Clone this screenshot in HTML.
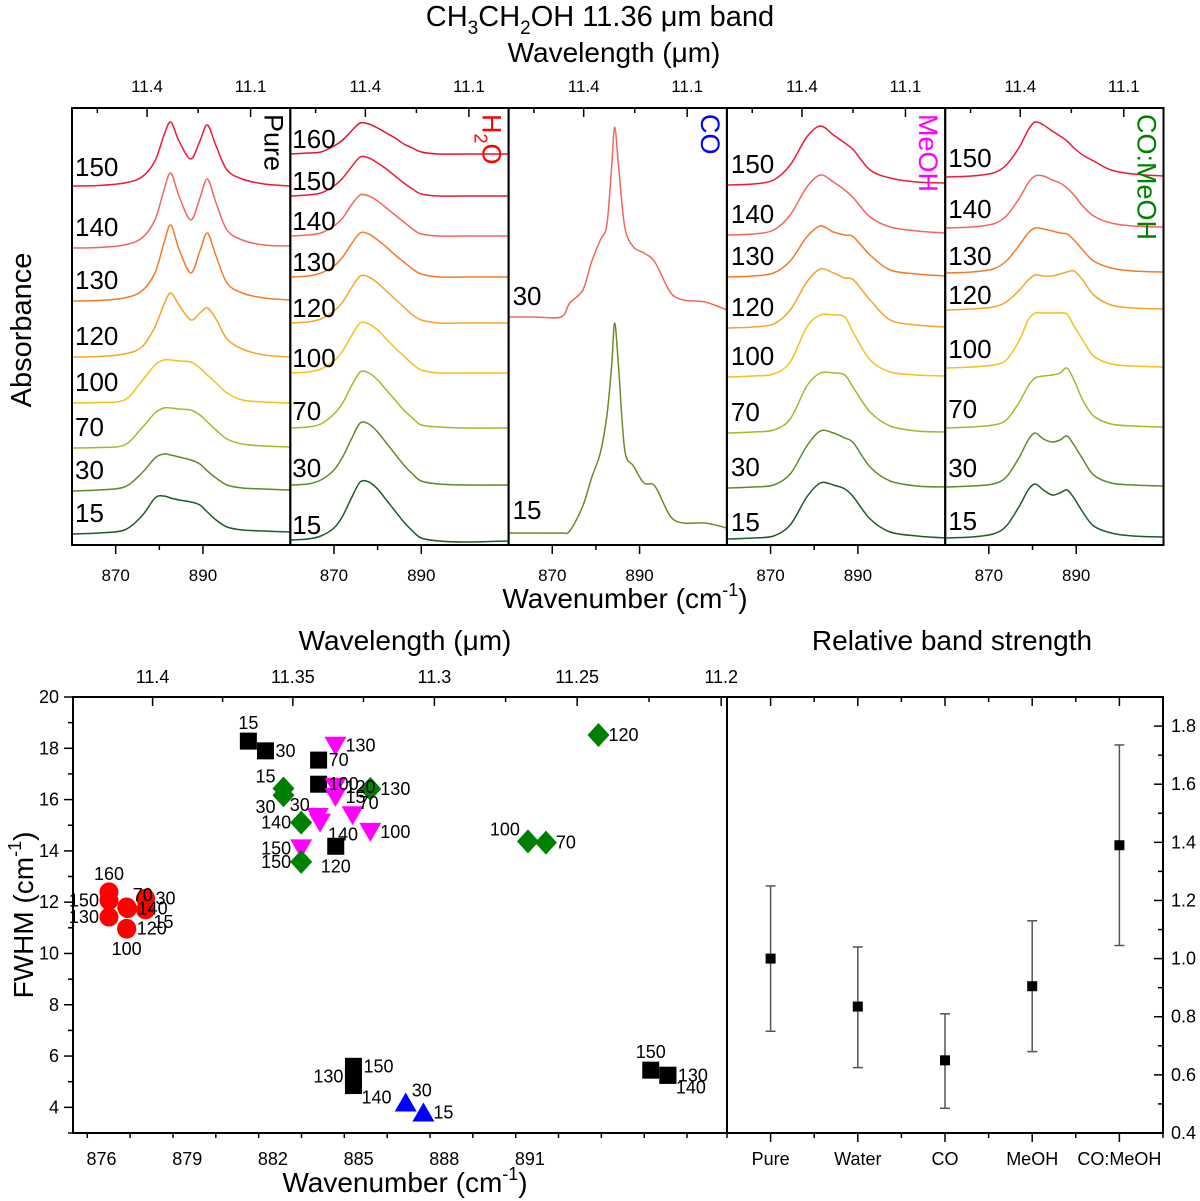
<!DOCTYPE html>
<html><head><meta charset="utf-8"><title>CH3CH2OH 11.36 um band</title>
<style>
html,body{margin:0;padding:0;background:#fff;}
svg{display:block;font-family:"Liberation Sans",Arial,sans-serif;}
</style></head>
<body>
<svg id="fig" xmlns="http://www.w3.org/2000/svg" width="1200" height="1201" viewBox="0 0 1200 1201">
<g id="topPanels"></g>
<g id="scat"></g>
<g id="bars"></g>
<text x="600" y="26" text-anchor="middle" font-size="29">CH<tspan font-size="19" dy="8">3</tspan><tspan dy="-8">CH</tspan><tspan font-size="19" dy="8">2</tspan><tspan dy="-8">OH 11.36 μm band</tspan></text>
<text x="614" y="62" text-anchor="middle" font-size="28">Wavelength (μm)</text>
<text x="625" y="608" text-anchor="middle" font-size="28">Wavenumber (cm<tspan font-size="18" dy="-12">-1</tspan><tspan dy="12">)</tspan></text>
<text transform="translate(31,330) rotate(-90)" text-anchor="middle" font-size="29">Absorbance</text>
<text x="405" y="650" text-anchor="middle" font-size="28">Wavelength (μm)</text>
<text x="952" y="650" text-anchor="middle" font-size="28">Relative band strength</text>
<text x="405" y="1192" text-anchor="middle" font-size="28">Wavenumber (cm<tspan font-size="18" dy="-12">-1</tspan><tspan dy="12">)</tspan></text>
<text transform="translate(33,915) rotate(-90)" text-anchor="middle" font-size="28">FWHM (cm<tspan font-size="18" dy="-12">-1</tspan><tspan dy="12">)</tspan></text>
</svg>
<script>
// ---------- TOP SPECTRA DATA ----------
const gridPure = [860,866,872,876,879,881,882.6,884.5,887.2,889.3,891,893,895.5,899,904,910];
const pureTemps = ['150','140','130','120','100','70','30','15'];
const pureOffsets = [359,297,244,188,142,97,54,11];
const pure150 = [0,0.5,3,9,25,50,64,45,27,45,61,40,16,7,2,0];
const pure140 = [0,0.5,3,10,28,57,75,52,28,50,69,45,18,8,3,2];
const pure130 = [0,0.5,3,10,28,57,76,52,28,50,68,45,18,8,3,1];
const pure120 = [0,0.5,3,10,30,52,64,52,37,44,49,38,18,8,2,0];
const pure100 = [0,0.5,3,22,38,43,43,42,41,35,28,20,10,3,1,0];
const pure70 = [0,0.5,3,20,35,40,40,39,38,33,26,18,9,4,2,1];
const pure30 = [0,1,4,18,33,37,36,34,31,27,20,13,6,3,2,1];
const pure15 = [0,1,4,18,36,38,36,34,32,29,22,14,7,4,3,2];

const gridH2O = [860,864,867,870,872,874,876,878,880,882,884,886,888,890,894,900,910];
const h2oTemps = ['160','150','140','130','120','100','70','30','15'];
const h2oOffsets = [391,349,309,268,222,172,117,60,5];
const h2o160 = [0,1,2,8,14,23,31,30,26,21,16,10,6,2,0,0,0];
const h2o150 = [0,1,3,10,18,29,39,38,33,27,20,13,7,2,0,0,0];
const h2o140 = [0,1,3,10,18,31,41,40,35,28,21,14,7,2,0,0,0];
const h2o130 = [0,1,4,11,20,33,44,43,37,30,22,15,8,3,0,0,0];
const h2o120 = [0,1,4,12,21,35,47,46,40,32,24,16,8,3,0,0,0];
const h2o100 = [0,1,4,12,22,37,50,49,43,34,25,17,9,3,0,0,0];
const h2o70 = [0,1,4,14,25,42,56,55,48,38,28,18,10,3,1,0,0];
const h2o30 = [0,1,5,15,28,46,62,61,53,42,31,20,11,4,1,0,0];
const h2o15 = [0,1,4,12,24,42,58,58,51,40,29,18,9,2,-1,-2,-1];

const gridCO = [860,866,872,874,877,879,881,882.5,883.6,884.3,885.2,886.6,888.6,891,893.5,897,900,905,910];
const coTemps = ['30','15'];
const coOffsets = [228,12];
const co30 = [0,0,0,14,27,55,77,92,150,190,150,90,70,64,55,25,17,15,7];
const co15 = [0,0,0,2,27,55,80,117,167,210,165,83,67,50,47,17,10,10,5];

const gridMeOH = [860,866,870.7,874.5,878.3,881.4,884.4,887,889,892.8,897.4,903.5,910];
const meohTemps = ['150','140','130','120','100','70','30','15'];
const meohOffsets = [360,310,268,217,168,112,57,6];
const meoh150 = [0,1,5,20,48,59,50,42,35,15,7,3,2];
const meoh140 = [0,1,5,20,48,60,53,45,37,18,8,4,2];
const meoh130 = [0,1,4,16,40,51,45,42,40,22,7,3,1];
const meoh120 = [0,1,4,18,46,59,55,50,48,28,8,3,1];
const meoh100 = [0,1,3,15,50,62,62,60,44,17,5,2,1];
const meoh70 = [0,1,3,14,47,60,60,58,45,21,7,2,1];
const meoh30 = [0,1,3,14,42,57,55,50,45,21,7,2,1];
const meoh15 = [0,1,3,14,42,56,54,50,42,20,7,3,1];

const gridMix = [860,866,871,874,877,879,880.6,882.5,884.5,886.3,887.9,889.5,891.5,894,898,903,910];
const mixTemps = ['150','140','130','120','100','70','30','15'];
const mixOffsets = [368,317,272,235,177,117,58,7];
const mix150 = [0,1,4,12,30,47,55,52,46,41,36,29,22,16,7,3,1];
const mix140 = [0,1,4,12,30,45,52,52,48,45,40,33,22,12,5,2,1];
const mix130 = [0,1,4,12,28,40,45,44,42,40,39,33,23,12,5,2,1];
const mix120 = [0,1,3,8,20,30,35,34,34,36,38,39,30,15,5,2,1];
const mix100 = [0,1,3,8,28,48,55,55,55,55,54,42,28,12,4,2,1];
const mix70 = [0,1,3,8,26,42,50,52,53,55,60,48,28,12,4,2,1];
const mix30 = [0,1,3,10,30,47,54,48,45,47,51,42,28,12,4,2,1];
const mix15 = [0,1,4,12,32,48,54,48,43,45,48,40,26,12,5,2,1];

// ---------- SCATTER DATA ----------
const pureWn = [881.14,881.74,883.60,883.60,884.20,884.82,884.82,884.82,895.23,895.83,895.83];
const pureFwhm = [18.28,17.9,17.54,16.6,14.18,5.6,5.2,4.85,5.45,5.25,5.25];
const pureLbl = ['15','30','70','100','120','150','130','140','150','130','140'];
const pureSide = ['t','r','r','r','b','r','l','br','t','r','br'];

const h2oWn = [876.26,876.26,876.26,876.88,876.91,877.54,877.54,876.88,876.88];
const h2oFwhm = [12.4,12.07,11.42,11.81,11.75,12.15,11.7,10.98,10.95];
const h2oLbl = ['160','150','130','70','140','30','15','120','100'];
const h2oSide = ['t','l','l','tr','r','r','br','r','b'];

const coWn = [886.65,887.27];
const coFwhm = [4.19,3.8];
const coLbl = ['30','15'];
const coSide = ['tr','r'];

const meohWn = [884.19,884.19,884.19,883.57,883.65,884.79,885.41,882.99];
const meohFwhm = [18.1,16.5,16.1,15.32,15.1,15.39,14.74,14.1];
const meohLbl = ['130','120','15','30','140','70','100','150'];
const meohSide = ['r','r','r','tl','br','tr','r','l'];

const mixWn = [882.37,882.37,882.99,882.99,885.41,893.40,890.93,891.56];
const mixFwhm = [16.43,16.17,15.1,13.57,16.42,18.52,14.37,14.32];
const mixLbl = ['15','30','140','150','130','120','100','70'];
const mixSide = ['tl','bl','l','l','r','r','tl','r'];

const scatXTicks = [876,879,882,885,888,891];
const scatYTicks = [4,6,8,10,12,14,16,18,20];
const scatWlTicks = ['11.4','11.35','11.3','11.25','11.2'];

// ---------- BAND STRENGTH DATA ----------
const bandCats = ['Pure','Water','CO','MeOH','CO:MeOH'];
const bandVals = [1.0,0.835,0.65,0.905,1.39];
const bandHi = [1.25,1.04,0.81,1.13,1.735];
const bandLo = [0.75,0.625,0.485,0.68,1.045];
const bandTicks = ['0.4','0.6','0.8','1.0','1.2','1.4','1.6','1.8'];

// ---------- helpers ----------
const NS='http://www.w3.org/2000/svg';
function mk(tag,attrs,parent){const e=document.createElementNS(NS,tag);for(const k in attrs)e.setAttribute(k,attrs[k]);parent.appendChild(e);return e;}
function spline(pts){
  let d='M'+pts[0][0].toFixed(2)+','+pts[0][1].toFixed(2);
  for(let i=0;i<pts.length-1;i++){
    const p0=pts[i-1]||pts[i],p1=pts[i],p2=pts[i+1],p3=pts[i+2]||p2;
    const t=0.16;
    const c1=[p1[0]+(p2[0]-p0[0])*t,p1[1]+(p2[1]-p0[1])*t];
    const c2=[p2[0]-(p3[0]-p1[0])*t,p2[1]-(p3[1]-p1[1])*t];
    d+='C'+c1[0].toFixed(2)+','+c1[1].toFixed(2)+' '+c2[0].toFixed(2)+','+c2[1].toFixed(2)+' '+p2[0].toFixed(2)+','+p2[1].toFixed(2);
  }
  return d;
}
const colorMap={'15':'#1e5a2c','30':'#5d8a2e','70':'#a9b52b','100':'#f1c21b','120':'#f6a42a','130':'#f47a2a','140':'#f2665d','150':'#ec1c35','160':'#e8112d'};
const coColors={'30':'#f2665d','15':'#6b8a2a'};

// ---------- TOP PANELS ----------
const topG=document.getElementById('topPanels');
const TY0=108, TY1=545, PW=218.3;
const panels=[
 {name:'pure',grid:gridPure,temps:pureTemps,offs:pureOffsets,curves:[pure150,pure140,pure130,pure120,pure100,pure70,pure30,pure15],title:'Pure',tcol:'#000',lblDy:[-10,-12,-12,-12,-12,-12,-12,-12],lblDx:3},
 {name:'h2o',grid:gridH2O,temps:h2oTemps,offs:h2oOffsets,curves:[h2o160,h2o150,h2o140,h2o130,h2o120,h2o100,h2o70,h2o30,h2o15],title:'H2O',tcol:'#ff0000',lblDy:[-6,-6,-6,-6,-6,-6,-8,-8,-6],lblDx:2},
 {name:'co',grid:gridCO,temps:coTemps,offs:coOffsets,curves:[co30,co15],title:'CO',tcol:'#0000ff',lblDy:[-12,-14],lblDx:4},
 {name:'meoh',grid:gridMeOH,temps:meohTemps,offs:meohOffsets,curves:[meoh150,meoh140,meoh130,meoh120,meoh100,meoh70,meoh30,meoh15],title:'MeOH',tcol:'#ff00ff',lblDy:[-12,-12,-12,-12,-12,-12,-12,-8],lblDx:4},
 {name:'co-meoh',grid:gridMix,temps:mixTemps,offs:mixOffsets,curves:[mix150,mix140,mix130,mix120,mix100,mix70,mix30,mix15],title:'CO:MeOH',tcol:'#008000',lblDy:[-10,-10,-8,-6,-10,-10,-10,-8],lblDx:3}
];
panels.forEach((p,i)=>{
  const x0=72+i*PW, x1=x0+PW;
  const xs=w=>x0+(w-860)/50*PW;
  const ys=v=>TY1-v*(TY1-TY0)/437;
  const g=mk('g',{},topG);
  
  
  const clipId='clip'+i;
  const cp=mk('clipPath',{id:clipId},g);
  mk('rect',{x:x0,y:TY0,width:PW,height:TY1-TY0},cp);
  p.curves.forEach((c,j)=>{
    const pts=p.grid.map((w,k)=>[xs(w),ys(p.offs[j]+c[k])]);
    const col=(p.name==='co')?coColors[p.temps[j]]:colorMap[p.temps[j]];
    const path=mk('path',{d:spline(pts),fill:'none',stroke:col,'stroke-width':1.5,'clip-path':'url(#'+clipId+')'},g);
    
    
    const t=mk('text',{x:x0+p.lblDx,y:ys(p.offs[j])+p.lblDy[j],'font-size':26},g);
    t.textContent=p.temps[j];
    
    
  });
  const fr=mk('rect',{x:x0,y:TY0,width:PW,height:TY1-TY0,fill:'none',stroke:'#000','stroke-width':2},g);
  
  
  [870,880,890].forEach(w=>{
    const maj=(w!==880);
    mk('line',{x1:xs(w),x2:xs(w),y1:TY1,y2:TY1+(maj?9:5),stroke:'#000','stroke-width':1.5},g);
    if(maj){const t=mk('text',{x:xs(w),y:TY1+36,'text-anchor':'middle','font-size':17},g);t.textContent=String(w);
      }
  });
  [[11.55,0],[11.4,1],[11.25,0],[11.1,1]].forEach(([l,maj])=>{
    const w=10000/l;
    mk('line',{x1:xs(w),x2:xs(w),y1:TY0,y2:TY0+(maj?9:5),stroke:'#000','stroke-width':1.5},g);
    if(maj){const t=mk('text',{x:xs(w),y:TY0-16,'text-anchor':'middle','font-size':17},g);t.textContent=l.toFixed(1);
      }
  });
  const tt=mk('text',{transform:'translate('+(x1-26)+','+(TY0+6)+') rotate(90)','font-size':27,fill:p.tcol},g);
  if(p.title==='H2O'){
    const a=mk('tspan',{},tt);a.textContent='H';
    const b=mk('tspan',{'font-size':18,dy:8},tt);b.textContent='2';
    const c=mk('tspan',{dy:-8},tt);c.textContent='O';
  } else tt.textContent=p.title;
  
  
});

// ---------- SCATTER ----------
const sc=document.getElementById('scat');
const SX0=73,SX1=727,SY0=697,SY1=1133;
const WN0=875, WN1=897.9;
const sx=w=>SX0+(w-WN0)/(WN1-WN0)*(SX1-SX0);
const sy=f=>SY1-(f-3)/(20-3)*(SY1-SY0);
// top wavelength axis as drawn in the original (independent scale)
const sxWl=l=>SX0+(10000/l-875)*36.3;
mk('rect',{x:SX0,y:SY0,width:SX1-SX0,height:SY1-SY0,fill:'none',stroke:'#000','stroke-width':2},sc);
for(let k=0;k<=14;k++){
  const w=875.5+k*1.5;
  if(w>WN1) break;
  const maj=scatXTicks.includes(w);
  mk('line',{x1:sx(w),x2:sx(w),y1:SY1,y2:SY1+(maj?9:5),stroke:'#000','stroke-width':1.5},sc);
}
scatXTicks.forEach(w=>{const t=mk('text',{x:sx(w),y:SY1+32,'text-anchor':'middle','font-size':18},sc);t.textContent=String(w);
  });
for(let f=3;f<=20;f+=1){
  const maj=scatYTicks.includes(f);
  mk('line',{x1:SX0,x2:SX0-(maj?9:5),y1:sy(f),y2:sy(f),stroke:'#000','stroke-width':1.5},sc);
}
scatYTicks.forEach(f=>{const t=mk('text',{x:SX0-14,y:sy(f)+6,'text-anchor':'end','font-size':18},sc);t.textContent=String(f);
  });
for(let k=0;k<=8;k++){
  const l=11.4-k*0.025;
  const maj=(k%2===0);
  mk('line',{x1:sxWl(l),x2:sxWl(l),y1:SY0,y2:SY0+(maj?9:5),stroke:'#000','stroke-width':1.5},sc);
}
scatWlTicks.forEach(l=>{const t=mk('text',{x:sxWl(parseFloat(l)),y:SY0-14,'text-anchor':'middle','font-size':18},sc);t.textContent=l;
  });

const sideOff={r:[10,6,'start'],l:[-10,6,'end'],t:[0,-12,'middle'],b:[0,26,'middle'],tr:[6,-6,'start'],br:[8,18,'start'],tl:[-8,-6,'end'],bl:[-8,18,'end']};
function marker(shape,x,y,col){
  if(shape==='circle') return mk('circle',{cx:x,cy:y,r:9.5,fill:col},sc);
  if(shape==='square') return mk('rect',{x:x-8.5,y:y-8.5,width:17,height:17,fill:col},sc);
  if(shape==='down') return mk('path',{d:`M${x-11},${y-9}L${x+11},${y-9}L${x},${y+10}Z`,fill:col},sc);
  if(shape==='up') return mk('path',{d:`M${x-11},${y+9}L${x+11},${y+9}L${x},${y-10}Z`,fill:col},sc);
  return mk('path',{d:`M${x},${y-12}L${x+11},${y}L${x},${y+12}L${x-11},${y}Z`,fill:col},sc);
}
const series=[
 {n:'pure',wn:pureWn,f:pureFwhm,l:pureLbl,s:pureSide,shape:'square',col:'#000'},
 {n:'h2o',wn:h2oWn,f:h2oFwhm,l:h2oLbl,s:h2oSide,shape:'circle',col:'#ff0000'},
 {n:'co',wn:coWn,f:coFwhm,l:coLbl,s:coSide,shape:'up',col:'#0000ff'},
 {n:'meoh',wn:meohWn,f:meohFwhm,l:meohLbl,s:meohSide,shape:'down',col:'#ff00ff'},
 {n:'co-meoh',wn:mixWn,f:mixFwhm,l:mixLbl,s:mixSide,shape:'diamond',col:'#008000'}
];
series.forEach(S=>{
  S.wn.forEach((w,i)=>{
    const x=sx(w),y=sy(S.f[i]);
    const m=marker(S.shape,x,y,S.col);
    
    
  });
});
series.forEach(S=>{
  S.wn.forEach((w,i)=>{
    const x=sx(w),y=sy(S.f[i]);
    const o=sideOff[S.s[i]];
    const t=mk('text',{x:x+o[0],y:y+o[1],'text-anchor':o[2],'font-size':18},sc);
    t.textContent=S.l[i];
    
    
  });
});

// ---------- BAND STRENGTH ----------
const bg=document.getElementById('bars');
const BX0=727,BX1=1163,BY0=697,BY1=1133;
const bw=(BX1-BX0)/bandCats.length;
const bx=i=>BX0+bw*(i+0.5);
const by=v=>BY1-(v-0.4)/(1.9-0.4)*(BY1-BY0);
mk('rect',{x:BX0,y:BY0,width:BX1-BX0,height:BY1-BY0,fill:'none',stroke:'#000','stroke-width':2},bg);
for(let k=0;k<=10;k++){
  const x=BX0+bw*k/2, maj=(k%2===1);
  mk('line',{x1:x,x2:x,y1:BY1,y2:BY1+(maj?9:5),stroke:'#000','stroke-width':1.5},bg);
  mk('line',{x1:x,x2:x,y1:BY0,y2:BY0+(maj?9:5),stroke:'#000','stroke-width':1.5},bg);
}
bandTicks.forEach((l,k)=>{
  const v=parseFloat(l);
  mk('line',{x1:BX1,x2:BX1-9,y1:by(v),y2:by(v),stroke:'#000','stroke-width':1.5},bg);
  mk('line',{x1:BX1,x2:BX1-5,y1:by(v+0.1),y2:by(v+0.1),stroke:'#000','stroke-width':1.5},bg);
  const t=mk('text',{x:BX1+8,y:by(v)+6,'font-size':18},bg);t.textContent=l;
  
});
bandCats.forEach((c,i)=>{
  const x=bx(i);
  const eb=mk('g',{stroke:'#555','stroke-width':1.5},bg);
  
  
  mk('line',{x1:x,x2:x,y1:by(bandHi[i]),y2:by(bandLo[i])},eb);
  mk('line',{x1:x-5,x2:x+5,y1:by(bandHi[i]),y2:by(bandHi[i])},eb);
  mk('line',{x1:x-5,x2:x+5,y1:by(bandLo[i]),y2:by(bandLo[i])},eb);
  const s=mk('rect',{x:x-5,y:by(bandVals[i])-5,width:10,height:10,fill:'#000'},bg);
  
  
  const t=mk('text',{x:x,y:BY1+32,'text-anchor':'middle','font-size':18},bg);t.textContent=c;
  
});
</script>
</body></html>
